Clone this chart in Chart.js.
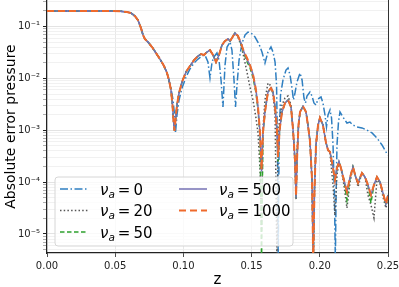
<!DOCTYPE html>
<html>
<head>
<meta charset="utf-8">
<script src="https://cdn.jsdelivr.net/npm/chart.js@4.4.1/dist/chart.umd.min.js"></script>
<style>
  html, body { margin: 0; padding: 0; background: #fff; }
  canvas { display: block; }
</style>
</head>
<body>
<canvas id="errChart" width="399" height="287"></canvas>
<script>
// ================= DATA =================
// shared z grid for nu_a = 20, 50, 500, 1000
const z = [
  0, 0.0389, 0.0535, 0.0587, 0.0616, 0.0645, 0.0667, 0.0689, 0.0704, 0.0718,
  0.0740, 0.0770, 0.0799, 0.0828, 0.0858, 0.0880, 0.0894, 0.0909, 0.0920, 0.0927,
  0.0935, 0.0942, 0.0953, 0.0968, 0.0990, 0.1019, 0.1048, 0.1078, 0.1107, 0.1129,
  0.1151, 0.1173, 0.1195, 0.1217, 0.1239, 0.1261, 0.1283, 0.1305, 0.1327, 0.1342,
  0.1356, 0.1378, 0.1400, 0.1422, 0.1444, 0.1466, 0.1488, 0.1510, 0.1532, 0.1547,
  0.1562, 0.1573, 0.1583, 0.1598, 0.1620, 0.1642, 0.1657, 0.1672, 0.1686, 0.1694,
  0.1705, 0.1723, 0.1745, 0.1767, 0.1789, 0.1804, 0.1818, 0.1826, 0.1833, 0.1844,
  0.1855, 0.1877, 0.1899, 0.1913, 0.1928, 0.1943, 0.1952, 0.1961, 0.1972, 0.1987,
  0.2001, 0.2023, 0.2045, 0.2060, 0.2075, 0.2097, 0.2111, 0.2126, 0.2141, 0.2155,
  0.2177, 0.2199, 0.2221, 0.2243, 0.2265, 0.2280, 0.2309, 0.2331, 0.2353, 0.2375,
  0.2397, 0.2419, 0.2441, 0.2463, 0.2485, 0.2500
];

const errNu1000 = [
  0.199, 0.199, 0.198, 0.190, 0.182, 0.159, 0.133, 0.0936, 0.0686, 0.0574,
  0.0503, 0.0403, 0.0309, 0.0236, 0.0173, 0.0127, 0.00931, 0.00598, 0.00307, 0.00158,
  0.00097, 0.00158, 0.00307, 0.00523, 0.00853, 0.0133, 0.0173, 0.0226, 0.0270, 0.0295,
  0.0282, 0.0323, 0.0352, 0.0282, 0.0207, 0.0282, 0.0440, 0.0526, 0.0574, 0.0526,
  0.0600, 0.0750, 0.0660, 0.0481, 0.0323, 0.0250, 0.0181, 0.0120, 0.00598, 0.00281,
  0.000887, 0.000172, 0.000887, 0.00225, 0.00547, 0.00653, 0.00547, 0.00281, 0.00101, 0.000306,
  0.00101, 0.00225, 0.00336, 0.00384, 0.00281, 0.00101, 0.000268, 0.000054, 0.000268, 0.00126,
  0.00225, 0.00290, 0.00225, 0.00126, 0.000620, 0.000110, 0.000003, 0.0000708, 0.000521, 0.00126,
  0.00173, 0.00126, 0.000585, 0.000417, 0.000382, 0.000188, 0.000110, 0.000188, 0.000245, 0.000188,
  0.000110, 0.0000648, 0.000121, 0.000196, 0.000121, 0.0000966, 0.000150, 0.000126, 0.0000883, 0.0000567,
  0.0000883, 0.000126, 0.000101, 0.0000620, 0.0000380, 0.0000567
];

const errNu500 = [
  0.199, 0.199, 0.198, 0.190, 0.182, 0.159, 0.133, 0.0936, 0.0686, 0.0574,
  0.0503, 0.0403, 0.0309, 0.0236, 0.0173, 0.0127, 0.00931, 0.00598, 0.00307, 0.00158,
  0.00097, 0.00158, 0.00307, 0.00523, 0.00853, 0.0133, 0.0173, 0.0226, 0.0270, 0.0295,
  0.0282, 0.0323, 0.0352, 0.0282, 0.0207, 0.0282, 0.0440, 0.0526, 0.0574, 0.0526,
  0.0600, 0.0750, 0.0660, 0.0481, 0.0323, 0.0230, 0.0181, 0.0120, 0.00598, 0.00281,
  0.000887, 0.000160, 0.000887, 0.00225, 0.00547, 0.00653, 0.00547, 0.00281, 0.00101, 0.000306,
  0.00101, 0.00225, 0.00336, 0.00384, 0.00281, 0.00101, 0.000268, 0.000050, 0.000268, 0.00126,
  0.00225, 0.00290, 0.00225, 0.00126, 0.000620, 0.000110, 0.000003, 0.0000708, 0.000521, 0.00126,
  0.00173, 0.00126, 0.000585, 0.000417, 0.000382, 0.000188, 0.000110, 0.000188, 0.000245, 0.000188,
  0.000110, 0.0000648, 0.000121, 0.000196, 0.000121, 0.0000966, 0.000150, 0.000126, 0.0000883, 0.0000567,
  0.0000883, 0.000126, 0.000101, 0.0000620, 0.0000380, 0.0000567
];

const errNu50 = [
  0.199, 0.199, 0.198, 0.190, 0.182, 0.159, 0.133, 0.0936, 0.0686, 0.0574,
  0.0503, 0.0403, 0.0309, 0.0236, 0.0173, 0.0127, 0.00931, 0.00598, 0.00307, 0.00158,
  0.00097, 0.00158, 0.00307, 0.00523, 0.00853, 0.0133, 0.0173, 0.0226, 0.0270, 0.0295,
  0.0282, 0.0323, 0.0352, 0.0282, 0.0207, 0.0282, 0.0440, 0.0526, 0.0574, 0.0526,
  0.0600, 0.0750, 0.0660, 0.0460, 0.0300, 0.0210, 0.0160, 0.0105, 0.00530, 0.00250,
  0.000750, 0.000003, 0.000800, 0.00225, 0.00547, 0.00653, 0.00547, 0.00281, 0.00101, 0.000250,
  0.00101, 0.00225, 0.00336, 0.00384, 0.00281, 0.00101, 0.000268, 0.000050, 0.000268, 0.00126,
  0.00225, 0.00290, 0.00225, 0.00126, 0.000620, 0.000110, 0.000003, 0.0000708, 0.000521, 0.00126,
  0.00173, 0.00126, 0.000585, 0.000417, 0.000382, 0.000188, 0.000101, 0.000188, 0.000245, 0.000188,
  0.000110, 0.0000454, 0.000121, 0.000196, 0.000121, 0.0000966, 0.000150, 0.000126, 0.0000883, 0.0000397,
  0.0000883, 0.000126, 0.000101, 0.0000620, 0.0000364, 0.0000567
];

const errNu20 = [
  0.199, 0.199, 0.198, 0.190, 0.182, 0.159, 0.133, 0.0936, 0.0686, 0.0574,
  0.0503, 0.0403, 0.0309, 0.0236, 0.0173, 0.0127, 0.00931, 0.00598, 0.00307, 0.00158,
  0.00097, 0.00158, 0.00307, 0.00523, 0.00853, 0.0133, 0.0173, 0.0226, 0.0270, 0.0295,
  0.0282, 0.0323, 0.0352, 0.0282, 0.0207, 0.0282, 0.0440, 0.0526, 0.0574, 0.0526,
  0.0600, 0.0750, 0.0628, 0.0440, 0.0250, 0.0133, 0.00683, 0.00384, 0.00173, 0.000887,
  0.000172, 0.000012, 0.00101, 0.00384, 0.00815, 0.00720, 0.00479, 0.00200, 0.000003, 0.000650,
  0.00173, 0.00307, 0.00419, 0.00458, 0.00307, 0.00101, 0.000214, 0.0000454, 0.000417, 0.00126,
  0.00225, 0.00290, 0.00225, 0.00126, 0.000620, 0.000110, 0.000003, 0.0000708, 0.000521, 0.00126,
  0.00173, 0.00126, 0.000585, 0.000417, 0.000350, 0.0000883, 0.0000230, 0.000138, 0.000245, 0.000188,
  0.0000883, 0.0000318, 0.0000966, 0.000196, 0.000121, 0.0000809, 0.000150, 0.000126, 0.0000567, 0.0000364,
  0.0000204, 0.000110, 0.000101, 0.0000519, 0.0000318, 0.0000496
];

// nu_a = 0 has its own sampling
const zNu0 = [
  0, 0.0389, 0.0535, 0.0587, 0.0616, 0.0645, 0.0667, 0.0689, 0.0704, 0.0718,
  0.0740, 0.0770, 0.0799, 0.0828, 0.0858, 0.0880, 0.0894, 0.0909, 0.0924, 0.0935,
  0.0942, 0.0953, 0.0968, 0.0990, 0.1019, 0.1048, 0.1078, 0.1107, 0.1136, 0.1158,
  0.1180, 0.1195, 0.1210, 0.1224, 0.1246, 0.1261, 0.1276, 0.1290, 0.1305, 0.1320,
  0.1342, 0.1356, 0.1371, 0.1382, 0.1393, 0.1408, 0.1430, 0.1452, 0.1474, 0.1496,
  0.1525, 0.1554, 0.1576, 0.1598, 0.1620, 0.1642, 0.1657, 0.1672, 0.1683, 0.1690,
  0.1695, 0.1701, 0.1712, 0.1730, 0.1752, 0.1767, 0.1782, 0.1796, 0.1807, 0.1818,
  0.1833, 0.1855, 0.1870, 0.1884, 0.1895, 0.1906, 0.1928, 0.1943, 0.1957, 0.1972,
  0.1987, 0.2009, 0.2023, 0.2038, 0.2049, 0.2060, 0.2075, 0.2086, 0.2097, 0.2108,
  0.2114, 0.2119, 0.2126, 0.2137, 0.2148, 0.2170, 0.2199, 0.2221, 0.2243, 0.2273,
  0.2309, 0.2346, 0.2383, 0.2419, 0.2456, 0.2485, 0.2500
];

const errNu0 = [
  0.199, 0.199, 0.198, 0.190, 0.182, 0.159, 0.133, 0.0936, 0.0686, 0.0574,
  0.0503, 0.0403, 0.0309, 0.0236, 0.0173, 0.0127, 0.00931, 0.00653, 0.00384, 0.00197,
  0.000887, 0.00197, 0.00384, 0.00653, 0.0106, 0.0152, 0.0198, 0.0236, 0.0270, 0.0282,
  0.0207, 0.0102, 0.0207, 0.0259, 0.0309, 0.0226, 0.00931, 0.00281, 0.0181, 0.0403,
  0.0503, 0.0352, 0.00931, 0.00281, 0.00746, 0.0226, 0.0481, 0.0686, 0.0783, 0.0750,
  0.0628, 0.0460, 0.0323, 0.0198, 0.0323, 0.0403, 0.0323, 0.0207, 0.00746, 0.000417,
  0.000003, 0.000417, 0.00479, 0.00931, 0.0145, 0.0159, 0.0116, 0.00653, 0.00384, 0.00523,
  0.00853, 0.0127, 0.00931, 0.00419, 0.00336, 0.00458, 0.00547, 0.00458, 0.00336, 0.00307,
  0.00401, 0.00438, 0.00336, 0.00197, 0.00116, 0.00197, 0.00246, 0.00173, 0.000521, 0.0000454,
  0.000003, 0.0000454, 0.000521, 0.00144, 0.00225, 0.00180, 0.00138, 0.00144, 0.00126, 0.00116,
  0.00111, 0.00101, 0.000887, 0.000711, 0.000521, 0.000382, 0.000334
];

const nuLabels = ['0', '20', '50', '500', '1000'];
const xTicks = [0, 0.05, 0.10, 0.15, 0.20, 0.25];
const yMajorExps = [-5, -4, -3, -2, -1];

const Y_MIN = 4.3e-6;
const Y_MAX = 0.325;

// ================= HELPERS =================
const SUP = { '-': '⁻', '0': '⁰', '1': '¹', '2': '²', '3': '³', '4': '⁴', '5': '⁵', '6': '⁶', '7': '⁷', '8': '⁸', '9': '⁹' };

function toPoints(xs, ys) {
  return xs.map((x, i) => ({ x: x, y: ys[i] }));
}

function majorExp(v) {
  const e = Math.log10(v);
  const r = Math.round(e);
  return Math.abs(e - r) < 1e-6 && yMajorExps.includes(r) ? r : null;
}

function powLabel(v) {
  const e = majorExp(v);
  if (e === null) return '';
  return '10' + String(e).split('').map(ch => SUP[ch]).join('');
}

// grid positions of a matplotlib log axis: 1..9 x 10^n inside the range
function logGridValues(min, max) {
  const vals = [];
  for (let e = Math.floor(Math.log10(min)); e <= Math.ceil(Math.log10(max)); e++) {
    for (let m = 1; m <= 9; m++) {
      const v = m * Math.pow(10, e);
      if (v > min && v < max) vals.push(v);
    }
  }
  return vals;
}

function drawNuLabel(c, x, y, value) {
  const base = y + 5.5;
  c.fillStyle = '#000';
  c.textBaseline = 'alphabetic';
  c.textAlign = 'left';
  c.font = 'italic 15px "DejaVu Sans"';
  c.fillText('ν', x, base);
  x += c.measureText('ν').width;
  c.font = 'italic 10.5px "DejaVu Sans"';
  c.fillText('a', x, base + 3);
  x += c.measureText('a').width + 3;
  c.font = '15px "DejaVu Sans"';
  c.fillText('=', x, base);
  x += c.measureText('=').width + 3;
  c.fillText(value, x, base);
}

// ================= PLUGINS =================
const mplLegend = {
  id: 'mplLegend',
  afterDatasetsDraw(chart) {
    const c = chart.ctx;
    const area = chart.chartArea;
    const bx = area.left + 8, by = area.bottom - 76, bw = 238, bh = 69;
    c.save();
    c.beginPath();
    c.roundRect(bx, by, bw, bh, 3);
    c.fillStyle = 'rgba(255,255,255,0.8)';
    c.fill();
    c.strokeStyle = '#d6d6d6';
    c.lineWidth = 1;
    c.stroke();
    // matplotlib ncol=2 fills the columns first
    chart.data.datasets.forEach((ds, i) => {
      const col = i < 3 ? 0 : 1;
      const row = i < 3 ? i : i - 3;
      const x = bx + 5 + col * 119;
      const y = by + 12 + row * 21.5;
      c.beginPath();
      c.setLineDash(ds.borderDash || []);
      c.strokeStyle = ds.borderColor;
      c.lineWidth = ds.borderWidth;
      c.moveTo(x, y);
      c.lineTo(x + 28, y);
      c.stroke();
      c.setLineDash([]);
      drawNuLabel(c, x + 40, y, nuLabels[i]);
    });
    c.restore();
  },
  afterDraw(chart) {
    // right spine
    const c = chart.ctx;
    const area = chart.chartArea;
    c.save();
    c.strokeStyle = '#333';
    c.lineWidth = 1;
    c.beginPath();
    c.moveTo(area.right + 0.5, area.top);
    c.lineTo(area.right + 0.5, area.bottom);
    c.stroke();
    c.restore();
  }
};

// ================= CHART =================
Chart.defaults.font.family = '"DejaVu Sans"';
Chart.defaults.color = '#222';

const ctx = document.getElementById('errChart');

new Chart(ctx, {
  type: 'line',
  data: {
    datasets: [
      { label: 'ν_a = 0', data: toPoints(zNu0, errNu0), borderColor: '#2f7fc1', borderWidth: 1.5, borderDash: [8, 2.5, 1.5, 2.5], order: 4 },
      { label: 'ν_a = 20', data: toPoints(z, errNu20), borderColor: '#555555', borderWidth: 1.5, borderDash: [1.5, 2.2], order: 3 },
      { label: 'ν_a = 50', data: toPoints(z, errNu50), borderColor: '#2ca02c', borderWidth: 1.5, borderDash: [4.5, 2.5], order: 2 },
      { label: 'ν_a = 500', data: toPoints(z, errNu500), borderColor: '#7570b3', borderWidth: 1.5, order: 1 },
      { label: 'ν_a = 1000', data: toPoints(z, errNu1000), borderColor: '#ef6a2c', borderWidth: 2, borderDash: [7, 4], order: 0 }
    ]
  },
  options: {
    responsive: false,
    animation: false,
    layout: { padding: { top: 0, right: 11, bottom: 0, left: 0 } },
    elements: {
      point: { radius: 0 },
      line: { tension: 0, fill: false }
    },
    plugins: {
      legend: { display: false },
      tooltip: { enabled: false }
    },
    scales: {
      x: {
        type: 'linear',
        min: 0,
        max: 0.25,
        afterFit(s) { s.height = 34; s.paddingLeft = 0; s.paddingRight = 0; },
        afterBuildTicks(s) { s.ticks = xTicks.map(v => ({ value: v })); },
        border: { color: '#222', width: 1.2 },
        grid: { color: '#e2e2e2', lineWidth: 0.8, tickLength: 4, tickColor: '#222' },
        ticks: {
          padding: 3,
          color: '#222',
          font: { size: 10 },
          maxRotation: 0,
          autoSkip: false,
          callback: v => v.toFixed(2)
        },
        title: { display: true, text: 'z', color: '#000', font: { size: 15 }, padding: { top: 0, bottom: -2 } }
      },
      y: {
        type: 'logarithmic',
        min: Y_MIN,
        max: Y_MAX,
        afterFit(s) { s.width = 47; s.paddingTop = 0; s.paddingBottom = 0; },
        afterBuildTicks(s) { s.ticks = logGridValues(Y_MIN, Y_MAX).map(v => ({ value: v })); },
        border: { color: '#222', width: 1.2 },
        grid: {
          color: c => majorExp(c.tick.value) !== null ? '#dcdcdc' : '#eeeeee',
          lineWidth: 0.8,
          tickLength: 4,
          tickColor: c => majorExp(c.tick.value) !== null ? '#222' : '#777',
          tickWidth: c => majorExp(c.tick.value) !== null ? 1 : 0.6
        },
        ticks: {
          padding: 3,
          color: '#222',
          font: { size: 10 },
          autoSkip: false,
          callback: v => powLabel(v)
        },
        title: { display: true, text: 'Absolute error pressure', color: '#000', font: { size: 14 }, padding: { top: 2.5, bottom: 0 } }
      }
    }
  },
  plugins: [mplLegend]
});
</script>
</body>
</html>
